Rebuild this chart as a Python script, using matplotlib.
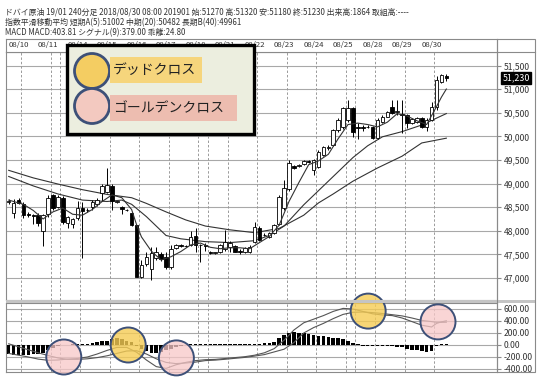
import matplotlib
matplotlib.use('Agg')
import matplotlib.pyplot as plt
from matplotlib.patches import Rectangle, Circle, Ellipse
import numpy as np

plt.rcParams['font.family'] = ['Noto Sans CJK JP', 'DejaVu Sans']

# 4-hour candles (08/10 - 08/30)
opens = [48600, 48380, 48650, 48570, 48350, 48330, 48340, 48000, 48350, 48750,
         48510, 48700, 48160, 48140, 48270, 48480, 48440, 48500, 48560, 48800,
         48830, 48950, 48600, 48500, 48450, 48370, 48120, 47030, 47300, 47200,
         47430, 47500, 47440, 47230, 47640, 47700, 47680, 47700, 47890, 47700,
         47700, 47560, 47530, 47550, 47620, 47650, 47680, 47570, 47540, 47550,
         47760, 48060, 47900, 47860, 47950, 48150, 48480, 48880, 49370, 49380,
         49420, 49480, 49290, 49350, 49600, 49760, 49820, 50130, 50200, 50350,
         50600, 50200, 50200, 50200, 50200, 49960, 50300, 50420, 50620, 50520,
         50480, 50450, 50280, 50300, 50390, 50200, 50350, 50620, 51150, 51270]
highs = [48680, 48680, 48700, 48600, 48400, 48360, 48380, 48360, 48760, 48780,
         48760, 48740, 48320, 48280, 48620, 48600, 48480, 48650, 48700, 49000,
         49320, 48980, 48640, 48520, 48470, 48400, 48130, 47380, 47560, 47660,
         47650, 47560, 47560, 47700, 47720, 47720, 47700, 48000, 48050, 47720,
         47750, 47580, 47560, 47720, 48020, 47780, 47700, 47620, 47660, 47700,
         48190, 48100, 47960, 47980, 48150, 48750, 49070, 49500, 49400, 49420,
         49500, 49500, 49520, 49720, 49800, 49820, 50150, 50380, 50620, 50770,
         50620, 50280, 50250, 50230, 50220, 50380, 50450, 50540, 50770, 50780,
         50780, 50470, 50380, 50400, 50400, 50380, 50720, 51280, 51310, 51320]
lows = [48560, 48270, 48560, 48280, 48300, 48150, 48100, 47680, 48300, 48450,
        48480, 48150, 48050, 48050, 48220, 47420, 48400, 48450, 48520, 48620,
        48800, 48430, 48580, 48350, 48420, 48100, 47020, 46990, 47250, 46960,
        47380, 47350, 47180, 47180, 47620, 47660, 47650, 47680, 47550, 47340,
        47580, 47500, 47500, 47520, 47580, 47560, 47540, 47500, 47520, 47530,
        47740, 47780, 47880, 47840, 47930, 48120, 48450, 48850, 49300, 49350,
        49400, 49440, 49180, 49320, 49580, 49720, 49800, 50100, 50150, 50300,
        49980, 49950, 50110, 50170, 49950, 49940, 50280, 50400, 50480, 50450,
        50070, 50180, 50260, 50280, 50180, 50120, 50330, 50560, 51120, 51180]
closes = [48620, 48590, 48590, 48330, 48330, 48310, 48160, 48330, 48700, 48490,
          48720, 48180, 48300, 48240, 48480, 48420, 48430, 48610, 48650, 48950,
          48970, 48620, 48620, 48460, 48440, 48120, 47030, 47280, 47450, 47520,
          47550, 47400, 47230, 47620, 47700, 47680, 47670, 47870, 47700, 47690,
          47680, 47530, 47530, 47700, 47760, 47750, 47550, 47560, 47640, 47660,
          48080, 47800, 47920, 47950, 48120, 48720, 48900, 49430, 49330, 49390,
          49470, 49460, 49500, 49670, 49780, 49780, 50130, 50350, 50600, 50600,
          50100, 50180, 50180, 50190, 49960, 50340, 50420, 50520, 50500, 50540,
          50450, 50280, 50360, 50380, 50200, 50350, 50620, 51190, 51300, 51230]

# moving averages (bar index, value)
ma5_idx = [0, 3, 5, 7, 9, 11, 13, 15, 17, 19, 21, 23, 25, 26, 27, 29, 31, 33, 35, 37,
           39, 41, 43, 45, 47, 49, 51, 53, 55, 57, 59, 61, 63, 65, 67, 69, 71, 73, 75,
           77, 79, 81, 83, 85, 87, 88, 89]
ma5 = [48650, 48560, 48430, 48250, 48400, 48480, 48350, 48330, 48450, 48620, 48760,
       48700, 48450, 48130, 47870, 47570, 47380, 47450, 47560, 47700, 47740, 47650,
       47620, 47640, 47640, 47620, 47750, 47880, 48120, 48620, 49020, 49400, 49480,
       49620, 49950, 50250, 50280, 50250, 50200, 50300, 50480, 50430, 50330, 50250,
       50630, 50830, 51002]
ma20_idx = [0, 5, 10, 15, 20, 23, 25, 28, 30, 32, 35, 40, 45, 50, 53, 56, 60, 63, 65,
            68, 70, 73, 76, 80, 84, 89]
ma20 = [49150, 48950, 48780, 48650, 48620, 48650, 48560, 48300, 48100, 47900, 47830,
        47770, 47750, 47790, 47900, 48100, 48550, 48850, 49050, 49350, 49550, 49800,
        49990, 50100, 50240, 50482]
ma40_idx = [0, 5, 10, 15, 20, 25, 28, 32, 36, 40, 45, 50, 55, 60, 63, 66, 70, 75, 78,
            80, 84, 89]
ma40 = [49280, 49120, 48990, 48870, 48770, 48700, 48580, 48400, 48230, 48100, 48020,
        47960, 48050, 48330, 48590, 48780, 49050, 49330, 49480, 49580, 49860, 49961]

# MACD panel
macd_idx = [0, 2, 4, 6, 8, 10, 12, 14, 16, 18, 20, 22, 24, 26, 28, 30, 32, 34, 36, 38,
            40, 42, 44, 46, 48, 50, 52, 54, 56, 58, 60, 62, 64, 66, 68, 70, 72, 74, 76,
            78, 80, 82, 84, 86, 87, 88, 89]
macd = [-140, -170, -200, -235, -255, -250, -235, -225, -200, -150,
        -90, -40, -40, -120, -250, -360, -390, -330, -290, -260,
        -245, -240, -225, -210, -195, -170, -130, -60, 80, 250,
        370, 430, 490, 560, 610, 600, 560, 520, 500, 490,
        450, 390, 330, 300, 360, 385, 404]
signal = [20, -30, -80, -130, -175, -215, -240, -240, -230, -210,
          -180, -140, -100, -95, -150, -230, -290, -310, -300, -285,
          -260, -252, -238, -222, -207, -185, -160, -115, -70, 40,
          200, 290, 360, 440, 510, 545, 550, 540, 525, 505,
          485, 450, 410, 390, 378, 378, 379]
hist = [-150, -160, -165, -165, -160, -155, -145, -130, -90, -50,
        -20, -5, 5, 10, 10, 15, 20, 30, 45, 60,
        75, 95, 110, 100, 75, 45, -20, -60, -100, -125,
        -130, -110, -90, -60, -30, -15, 5, 10, 15, 12,
        15, 12, 10, 12, 13, 12, 12, 12, 12, 14,
        15, 20, 30, 40, 55, 110, 160, 200, 210, 205,
        195, 180, 165, 155, 145, 135, 125, 115, 105, 60,
        30, 10, -10, -18, -20, -22, -20, -18, -20, -30,
        -40, -60, -75, -90, -105, -110, -95, -18, 10, 25]

# crossover markers
cross_idx = [11.2, 24.3, 34.1, 73.1, 87.3]
cross_val = [-200, 0, -215, 565, 385]
cross_kind = ['golden', 'dead', 'golden', 'dead', 'golden']

date_labels = ['08/10', '08/11', '08/14', '08/15', '08/16', '08/17', '08/18', '08/21',
               '08/22', '08/23', '08/24', '08/25', '08/28', '08/29', '08/30']
day_lines = [2.5, 8.5, 10.5, 14.5, 20.5, 26.5, 32.5, 38.5, 40.5, 44.5, 50.5, 56.5,
             62.5, 68.5, 70.5, 74.5, 80.5, 86.5]

W, H = 544, 384
fig = plt.figure(figsize=(W / 100, H / 100), dpi=100)
xlim = (-0.55, 99.3)
frame_c = '#8a8a8a'
grid_c = '#a8a8a8'

def fx(px):
    return px / W

def fy(py):
    return 1 - py / H

ax = fig.add_axes([fx(6), fy(300), fx(491), 248 / H])
ax_d = fig.add_axes([fx(6), fy(52), fx(491), 13 / H])
ax_m = fig.add_axes([fx(6), fy(372), fx(491), 69 / H])

for a in (ax, ax_d, ax_m):
    a.set_xlim(*xlim)
    a.set_xticks([])
    for s in a.spines.values():
        s.set_color(frame_c)
        s.set_linewidth(0.8)

# date strip
ax_d.set_yticks([])
ax_d.set_ylim(0, 1)
for i, lab in enumerate(date_labels):
    ax_d.text(2 + 6 * i, 0.5, lab, ha='center', va='center', fontsize=5.6, color='#333333')

# main price panel
ax.set_ylim(46534, 51786)
price_ticks = list(range(47000, 51501, 500))
ax.set_yticks(price_ticks)
ax.set_yticklabels(['{:,}'.format(t) for t in price_ticks])
ax.yaxis.tick_right()
ax.tick_params(axis='y', length=3, color=frame_c, labelsize=6.2, labelcolor='#333333', pad=2)
for t in price_ticks:
    ax.axhline(t, color=grid_c, lw=0.8, zorder=1)
for d in day_lines:
    ax.axvline(d, color='#9a9a9a', lw=0.7, ls=(0, (2.5, 2)), zorder=1)

idx = np.arange(len(closes))
o = np.array(opens)
c = np.array(closes)
ax.vlines(idx, lows, highs, color='black', lw=0.7, zorder=3)
body_lo = np.minimum(o, c)
body_h = np.maximum(np.abs(c - o), 10)
face = ['white' if cc >= oo else 'black' for oo, cc in zip(o, c)]
ax.bar(idx, body_h, bottom=body_lo, width=0.72, color=face, edgecolor='black',
       linewidth=0.6, zorder=4)

ax.plot(ma40_idx, ma40, color='#333333', lw=0.8, zorder=2)
ax.plot(ma20_idx, ma20, color='#333333', lw=0.8, zorder=2)
ax.plot(ma5_idx, ma5, color='#333333', lw=0.8, zorder=5)

ax.annotate('{:,}'.format(closes[-1]), xy=(1.0, closes[-1]), xycoords=('axes fraction', 'data'),
            xytext=(4, 0), textcoords='offset points', ha='left', va='center',
            fontsize=6.4, color='white',
            bbox=dict(boxstyle='square,pad=0.15', fc='black', ec='black'))

# MACD panel
ax_m.set_ylim(-450, 700)
m_ticks = list(range(-400, 601, 200))
ax_m.set_yticks(m_ticks)
ax_m.set_yticklabels(['{:.2f}'.format(t) for t in m_ticks])
ax_m.yaxis.tick_right()
ax_m.tick_params(axis='y', length=3, color=frame_c, labelsize=6.2, labelcolor='#333333', pad=2)
for t in m_ticks:
    ax_m.axhline(t, color=grid_c, lw=0.8, zorder=1)
for d in day_lines:
    ax_m.axvline(d, color='#9a9a9a', lw=0.7, ls=(0, (2.5, 2)), zorder=1)
ax_m.bar(idx, hist, width=0.72, color='black', zorder=3)
ax_m.plot(macd_idx, macd, color='#555555', lw=0.8, zorder=4)
ax_m.plot(macd_idx, signal, color='#555555', lw=0.8, zorder=4)

rx = 17.5 / (491 / (xlim[1] - xlim[0]))
ry = 17.5 / (69 / 1150)
for ci, cv, kind in zip(cross_idx, cross_val, cross_kind):
    fc = (0.96, 0.80, 0.33, 0.8) if kind == 'dead' else (0.97, 0.78, 0.78, 0.75)
    ax_m.add_patch(Ellipse((ci, cv), 2 * rx, 2 * ry, fc=fc, ec='#3d5078', lw=1.4,
                           clip_on=False, zorder=10))

# separators and right column frame
fig.add_artist(Rectangle((fx(6), fy(303)), fx(529), 3 / H, transform=fig.transFigure,
                         fc='#c4c4c4', ec='none'))
fig.add_artist(Rectangle((fx(497), fy(372)), fx(38), 333 / H, transform=fig.transFigure,
                         fill=False, ec=frame_c, lw=0.8))
fig.add_artist(plt.Line2D([fx(497), fx(535)], [fy(52), fy(52)], transform=fig.transFigure,
                          color=frame_c, lw=0.8))

# header
hdr = ['ドバイ原油 19/01 240分足 2018/08/30 08:00 201901 始:51270 高:51320 安:51180 終:51230 出来高:1864 取組高:----',
       '指数平滑移動平均 短期A(5):51002 中期(20):50482 長期B(40):49961',
       'MACD MACD:403.81 シグナル(9):379.00 乖離:24.80']
for k, line in enumerate(hdr):
    fig.text(fx(5), fy(12.5 + 10.3 * k), line, fontsize=5.7, color='#333333', va='center')

# legend box (pixel overlay)
ov = fig.add_axes([0, 0, 1, 1], zorder=20)
ov.set_xlim(0, W)
ov.set_ylim(H, 0)
ov.axis('off')
ov.patch.set_alpha(0)
ov.add_patch(Rectangle((67, 45), 187, 89, fc='#eceedf', ec='black', lw=2.4))
ov.add_patch(Circle((92, 71), 17.5, fc='#f4cd62', ec='#3d5078', lw=2))
ov.add_patch(Rectangle((110, 57), 92, 26, fc='#f6d57c', ec='none'))
ov.text(113, 70, 'デッドクロス', fontsize=10, va='center', ha='left', color='#222222')
ov.add_patch(Circle((92, 106), 17.5, fc='#f3c9c0', ec='#3d5078', lw=2))
ov.add_patch(Rectangle((110, 95), 127, 26, fc='#edbdb0', ec='none'))
ov.text(113, 108, 'ゴールデンクロス', fontsize=10, va='center', ha='left', color='#222222')

fig.savefig('out.png', dpi=100)
